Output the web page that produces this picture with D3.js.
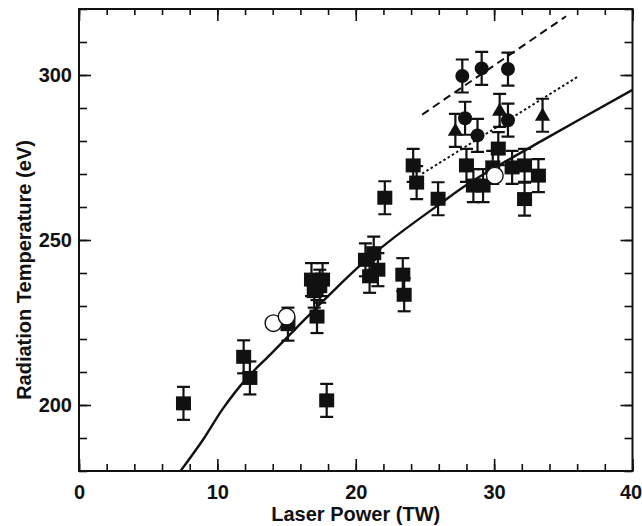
<!DOCTYPE html>
<html>
<head>
<meta charset="utf-8">
<script src="https://cdn.jsdelivr.net/npm/d3@7"></script>
<style>
  html, body { margin: 0; padding: 0; background: #fff; }
  svg { display: block; }
  text { font-family: "Liberation Sans", Arial, Helvetica, sans-serif; font-weight: bold; fill: #111; }
</style>
</head>
<body>
<svg id="chart" width="642" height="526"></svg>
<script>
// ---- data ----
const squareX = [7.55, 11.9, 12.35, 15.1, 16.8, 17.6, 17.0, 17.4, 17.2, 17.9, 20.7, 21.3, 21.0, 21.6, 22.1, 23.4, 23.5, 24.15, 24.4, 25.95, 28.0, 28.5, 29.2, 29.9, 30.3, 31.3, 32.2, 33.2, 32.2];
const squareT = [200.5, 214.6, 208.2, 224.5, 238, 238, 234.5, 236, 226.8, 201.4, 244, 246, 239, 241, 262.8, 239.5, 233.4, 272.6, 267.4, 262.5, 272.6, 266.5, 266.5, 272, 277.7, 272, 272.6, 269.5, 262.4];
const squareErr = [5, 5, 5, 5, 5, 5, 5, 5, 5, 5, 5, 5, 5, 5, 5, 5, 5, 5, 5, 5, 5, 5, 5, 5, 5, 5, 5, 5, 5];

const dotX = [27.7, 29.1, 31.0, 27.9, 28.8, 31.0];
const dotT = [299.7, 302, 301.8, 286.9, 281.7, 286.3];
const dotErr = [5, 5, 5, 5, 5, 5];

const triX = [27.2, 30.4, 33.5];
const triT = [283.2, 289.3, 287.8];
const triErr = [5, 5, 5];

const openX = [14.05, 15.0, 30.05];
const openT = [224.8, 226.8, 269.5];

const fitX = [7.3, 9.0, 10.4, 12.1, 13.8, 15.7, 18.0, 20.4, 22.6, 26.1, 28.3, 33.5, 40];
const fitT = [179.8, 189.7, 198.9, 208, 215.2, 223.3, 233, 242.6, 250.2, 261, 267.5, 280.2, 295.5];

const dashX = [24.8, 35.2];
const dashT = [288, 317.8];
const dottedX = [24.8, 36.05];
const dottedT = [270.1, 299.5];

const xTicks = [0, 10, 20, 30, 40];
const yTicks = [200, 250, 300];
const xTitle = "Laser Power (TW)";
const yTitle = "Radiation Temperature (eV)";

// ---- layout ----
const svg = d3.select("#chart");
const x = d3.scaleLinear().domain([0, 40]).range([79, 632.5]);
const y = d3.scaleLinear().domain([180, 320]).range([471, 9]);
const x0 = x.range()[0], x1 = x.range()[1], y0 = y.range()[0], y1 = y.range()[1];

const zip = (a, b, c) => a.map((v, i) => ({x: v, t: b[i], e: c ? c[i] : 0}));

svg.append("clipPath").attr("id", "clip")
  .append("rect").attr("x", x0).attr("y", y1).attr("width", x1 - x0).attr("height", y0 - y1);

const plot = svg.append("g").attr("clip-path", "url(#clip)");

const line = d3.line().x(d => x(d.x)).y(d => y(d.t));

plot.append("path").datum(zip(fitX, fitT))
  .attr("d", line.curve(d3.curveCatmullRom))
  .attr("fill", "none").attr("stroke", "#111").attr("stroke-width", 2.4);

plot.append("path").datum(zip(dashX, dashT))
  .attr("d", d3.line().x(d => x(d.x)).y(d => y(d.t)))
  .attr("fill", "none").attr("stroke", "#111").attr("stroke-width", 2)
  .attr("stroke-dasharray", "8,5");

plot.append("path").datum(zip(dottedX, dottedT))
  .attr("d", d3.line().x(d => x(d.x)).y(d => y(d.t)))
  .attr("fill", "none").attr("stroke", "#111").attr("stroke-width", 2)
  .attr("stroke-dasharray", "2.5,2.5");

function errorBars(data) {
  const g = plot.append("g").attr("stroke", "#111").attr("stroke-width", 2.2);
  data.forEach(d => {
    const cx = x(d.x);
    g.append("line").attr("x1", cx).attr("x2", cx).attr("y1", y(d.t - d.e)).attr("y2", y(d.t + d.e));
    g.append("line").attr("x1", cx - 6.5).attr("x2", cx + 6.5).attr("y1", y(d.t + d.e)).attr("y2", y(d.t + d.e));
    g.append("line").attr("x1", cx - 6.5).attr("x2", cx + 6.5).attr("y1", y(d.t - d.e)).attr("y2", y(d.t - d.e));
  });
}
const squares = zip(squareX, squareT, squareErr);
const dots = zip(dotX, dotT, dotErr);
const tris = zip(triX, triT, triErr);
errorBars(squares);
errorBars(dots);
errorBars(tris);

plot.append("g").selectAll("rect").data(squares).join("rect")
  .attr("x", d => x(d.x) - 7.5).attr("y", d => y(d.t) - 7)
  .attr("width", 15).attr("height", 14).attr("fill", "#111");

plot.append("g").selectAll("circle").data(dots).join("circle")
  .attr("cx", d => x(d.x)).attr("cy", d => y(d.t)).attr("r", 7).attr("fill", "#111");

const triSym = d3.symbol().type(d3.symbolTriangle).size(100);
plot.append("g").selectAll("path").data(tris).join("path")
  .attr("transform", d => `translate(${x(d.x)},${y(d.t) + 1})`)
  .attr("d", triSym).attr("fill", "#111");

plot.append("g").selectAll("circle").data(zip(openX, openT)).join("circle")
  .attr("cx", d => x(d.x)).attr("cy", d => y(d.t)).attr("r", 8.3)
  .attr("fill", "#fff").attr("stroke", "#111").attr("stroke-width", 1.4);

// axes (ticks inward on all four sides)
const xMinor = d3.range(0, 41, 2);
const yMinor = d3.range(180, 321, 10);
const fmt = d => d;

svg.append("g").attr("transform", `translate(0,${y0})`)
  .call(d3.axisBottom(x).tickValues(xMinor).tickSizeInner(-7).tickSizeOuter(0).tickFormat(""))
  .call(g => g.select(".domain").remove())
  .call(g => g.selectAll("line").attr("stroke", "#111").attr("stroke-width", 1.6));
svg.append("g").attr("transform", `translate(0,${y0})`)
  .call(d3.axisBottom(x).tickValues(xTicks).tickSizeInner(-12).tickSizeOuter(0).tickPadding(14).tickFormat(fmt))
  .call(g => g.select(".domain").remove())
  .call(g => g.selectAll("line").attr("stroke", "#111").attr("stroke-width", 1.6))
  .call(g => g.selectAll("text").attr("font-size", 20).attr("font-family", null).attr("fill", "#111")
    .attr("dx", d => d === 40 ? -2 : 0));

svg.append("g").attr("transform", `translate(0,${y1})`)
  .call(d3.axisTop(x).tickValues(xMinor).tickSizeInner(-6).tickSizeOuter(0).tickFormat(""))
  .call(g => g.select(".domain").remove())
  .call(g => g.selectAll("line").attr("stroke", "#111").attr("stroke-width", 1.6));
svg.append("g").attr("transform", `translate(0,${y1})`)
  .call(d3.axisTop(x).tickValues(xTicks).tickSizeInner(-12).tickSizeOuter(0).tickFormat(""))
  .call(g => g.select(".domain").remove())
  .call(g => g.selectAll("line").attr("stroke", "#111").attr("stroke-width", 1.6));

svg.append("g").attr("transform", `translate(${x0},0)`)
  .call(d3.axisLeft(y).tickValues(yMinor).tickSizeInner(-8).tickSizeOuter(0).tickFormat(""))
  .call(g => g.select(".domain").remove())
  .call(g => g.selectAll("line").attr("stroke", "#111").attr("stroke-width", 1.6));
svg.append("g").attr("transform", `translate(${x0},0)`)
  .call(d3.axisLeft(y).tickValues(yTicks).tickSizeInner(-12).tickSizeOuter(0).tickPadding(7).tickFormat(fmt))
  .call(g => g.select(".domain").remove())
  .call(g => g.selectAll("line").attr("stroke", "#111").attr("stroke-width", 1.6))
  .call(g => g.selectAll("text").attr("font-size", 20).attr("font-family", null).attr("fill", "#111"));

svg.append("g").attr("transform", `translate(${x1},0)`)
  .call(d3.axisRight(y).tickValues(yMinor).tickSizeInner(-8).tickSizeOuter(0).tickFormat(""))
  .call(g => g.select(".domain").remove())
  .call(g => g.selectAll("line").attr("stroke", "#111").attr("stroke-width", 1.6));
svg.append("g").attr("transform", `translate(${x1},0)`)
  .call(d3.axisRight(y).tickValues(yTicks).tickSizeInner(-12).tickSizeOuter(0).tickFormat(""))
  .call(g => g.select(".domain").remove())
  .call(g => g.selectAll("line").attr("stroke", "#111").attr("stroke-width", 1.6));

svg.append("rect").attr("x", x0).attr("y", y1).attr("width", x1 - x0).attr("height", y0 - y1)
  .attr("fill", "none").attr("stroke", "#111").attr("stroke-width", 2);

svg.append("text").attr("x", (x0 + x1) / 2).attr("y", 521)
  .attr("text-anchor", "middle").attr("font-size", 20).text(xTitle);
svg.append("text").attr("transform", `translate(31,${(y0 + y1) / 2 + 30}) rotate(-90)`)
  .attr("text-anchor", "middle").attr("font-size", 20).text(yTitle);
</script>
</body>
</html>
